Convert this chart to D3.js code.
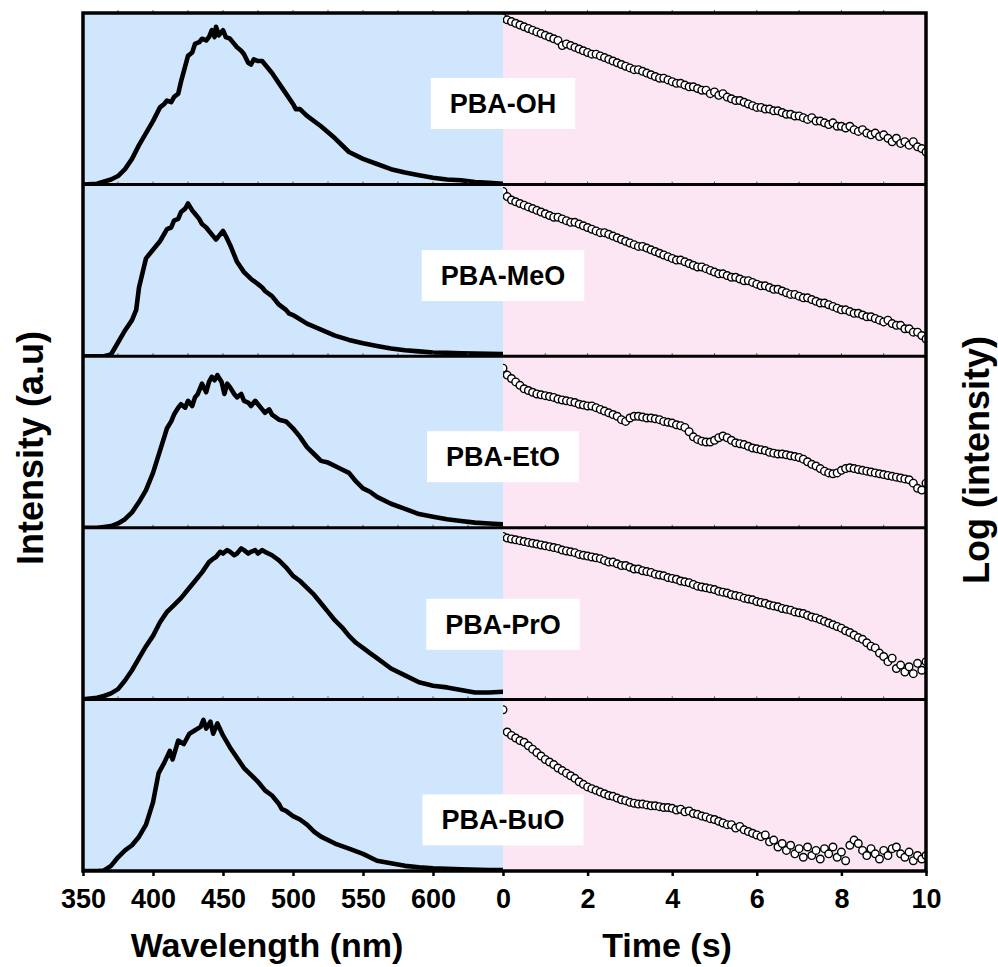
<!DOCTYPE html>
<html><head><meta charset="utf-8">
<script src="https://cdn.jsdelivr.net/npm/d3@7"></script>
<style>body{margin:0;background:#fff}svg{display:block}</style>
</head><body>
<svg id="c" width="998" height="967"></svg>
<script>
// ---------------- DATA ----------------
const samples = ["PBA-OH", "PBA-MeO", "PBA-EtO", "PBA-PrO", "PBA-BuO"];
const wavelengthTicks = [350, 400, 450, 500, 550, 600];
const timeTicks = [0, 2, 4, 6, 8, 10];

// PL spectra: [wavelength (nm), intensity (a.u., normalised per panel)]
const specOH = [[350,0],[360,0.005],[370,0.03],[375,0.05],[380,0.09],[385,0.15],[390,0.23],[395,0.30],[400,0.37],[405,0.45],[408,0.47],[410,0.49],[413,0.48],[415,0.51],[418,0.53],[420,0.60],[425,0.75],[428,0.77],[430,0.82],[433,0.83],[435,0.85],[438,0.84],[440,0.86],[442,0.90],[444,0.86],[445,0.92],[447,0.87],[450,0.90],[452,0.86],[455,0.85],[458,0.82],[460,0.80],[463,0.78],[465,0.76],[468,0.71],[470,0.70],[472,0.73],[475,0.72],[478,0.72],[480,0.70],[485,0.65],[490,0.59],[495,0.53],[500,0.47],[502,0.44],[505,0.44],[510,0.40],[520,0.34],[530,0.27],[540,0.19],[550,0.15],[560,0.12],[570,0.09],[580,0.07],[590,0.055],[600,0.04],[610,0.03],[620,0.025],[630,0.015],[640,0.01],[650,0.005]];
const specMeO = [[350,0],[360,0],[365,0],[370,0.01],[375,0.08],[380,0.15],[385,0.21],[388,0.27],[390,0.40],[395,0.57],[400,0.62],[405,0.67],[410,0.74],[413,0.75],[415,0.79],[418,0.80],[420,0.84],[423,0.86],[425,0.89],[428,0.85],[430,0.83],[433,0.80],[435,0.77],[438,0.75],[440,0.73],[443,0.70],[445,0.68],[447,0.70],[450,0.73],[452,0.70],[455,0.65],[460,0.55],[465,0.49],[470,0.45],[475,0.42],[478,0.40],[480,0.38],[485,0.35],[490,0.30],[495,0.27],[497,0.25],[500,0.24],[510,0.19],[520,0.155],[530,0.12],[540,0.095],[550,0.075],[560,0.06],[570,0.045],[580,0.035],[590,0.028],[600,0.022],[610,0.02],[620,0.017],[630,0.015],[640,0.014],[650,0.013]];
const specEtO = [[350,0],[360,0],[365,0.005],[370,0.01],[375,0.025],[380,0.05],[385,0.09],[390,0.15],[395,0.22],[400,0.32],[405,0.45],[410,0.58],[413,0.62],[415,0.66],[418,0.70],[420,0.72],[423,0.70],[425,0.74],[428,0.71],[430,0.76],[432,0.78],[435,0.84],[438,0.79],[440,0.85],[442,0.88],[444,0.86],[446,0.89],[449,0.85],[451,0.78],[453,0.84],[455,0.82],[458,0.78],[460,0.76],[463,0.78],[465,0.74],[468,0.73],[470,0.71],[473,0.74],[475,0.72],[478,0.69],[480,0.67],[483,0.69],[485,0.66],[490,0.63],[495,0.62],[500,0.58],[505,0.53],[510,0.47],[515,0.43],[520,0.39],[525,0.38],[530,0.36],[535,0.34],[540,0.32],[545,0.27],[550,0.23],[555,0.21],[560,0.18],[570,0.14],[580,0.11],[590,0.08],[600,0.065],[610,0.05],[620,0.04],[630,0.03],[640,0.025],[650,0.02]];
const specPrO = [[350,0],[355,0.005],[360,0.01],[365,0.02],[370,0.035],[375,0.06],[380,0.11],[385,0.17],[390,0.24],[395,0.31],[400,0.37],[405,0.45],[410,0.51],[415,0.55],[420,0.59],[425,0.64],[430,0.69],[435,0.74],[440,0.80],[443,0.82],[445,0.83],[448,0.86],[450,0.85],[453,0.87],[455,0.86],[458,0.84],[460,0.85],[463,0.88],[465,0.87],[468,0.85],[470,0.86],[473,0.87],[475,0.85],[478,0.87],[480,0.86],[485,0.84],[490,0.81],[495,0.77],[500,0.72],[505,0.69],[510,0.65],[515,0.61],[520,0.56],[525,0.51],[530,0.46],[535,0.42],[540,0.37],[545,0.33],[550,0.30],[555,0.27],[560,0.24],[570,0.18],[580,0.14],[590,0.10],[600,0.08],[610,0.07],[620,0.055],[630,0.04],[640,0.04],[650,0.045]];
const specBuO = [[350,0],[360,0],[365,0.003],[370,0.03],[375,0.08],[380,0.12],[385,0.15],[390,0.20],[395,0.27],[400,0.40],[404,0.57],[408,0.63],[412,0.70],[414,0.65],[418,0.76],[422,0.74],[426,0.80],[430,0.82],[434,0.84],[436,0.88],[438,0.83],[441,0.87],[443,0.80],[446,0.86],[450,0.79],[455,0.72],[460,0.66],[465,0.60],[470,0.56],[475,0.52],[480,0.47],[485,0.44],[490,0.39],[492,0.36],[495,0.35],[500,0.32],[505,0.30],[510,0.27],[515,0.23],[520,0.20],[530,0.16],[540,0.13],[550,0.10],[560,0.06],[570,0.045],[580,0.03],[590,0.022],[600,0.016],[620,0.01],[640,0.006],[650,0.005]];

// Decay curves: time (s) and log intensity (normalised per panel)
const times = [0,0.1,0.2,0.3,0.4,0.5,0.6,0.7,0.8,0.9,1,1.1,1.2,1.3,1.4,1.5,1.6,1.7,1.8,1.9,2,2.1,2.2,2.3,2.4,2.5,2.6,2.7,2.8,2.9,3,3.1,3.2,3.3,3.4,3.5,3.6,3.7,3.8,3.9,4,4.1,4.2,4.3,4.4,4.5,4.6,4.7,4.8,4.9,5,5.1,5.2,5.3,5.4,5.5,5.6,5.7,5.8,5.9,6,6.1,6.2,6.3,6.4,6.5,6.6,6.7,6.8,6.9,7,7.1,7.2,7.3,7.4,7.5,7.6,7.7,7.8,7.9,8,8.1,8.2,8.3,8.4,8.5,8.6,8.7,8.8,8.9,9,9.1,9.2,9.3,9.4,9.5,9.6,9.7,9.8,9.9,10];
const decayOH = [0.97,0.96,0.95,0.94,0.93,0.92,0.91,0.90,0.89,0.88,0.87,0.86,0.85,0.84,0.81,0.82,0.81,0.80,0.79,0.78,0.77,0.76,0.76,0.75,0.74,0.73,0.72,0.71,0.70,0.69,0.68,0.67,0.67,0.66,0.65,0.64,0.63,0.62,0.62,0.61,0.60,0.59,0.59,0.58,0.57,0.57,0.56,0.55,0.55,0.53,0.54,0.52,0.53,0.51,0.50,0.49,0.49,0.48,0.47,0.46,0.45,0.45,0.44,0.44,0.43,0.43,0.42,0.41,0.41,0.40,0.40,0.39,0.38,0.39,0.37,0.37,0.36,0.35,0.36,0.34,0.34,0.33,0.34,0.32,0.31,0.32,0.30,0.29,0.30,0.28,0.29,0.27,0.25,0.27,0.24,0.25,0.23,0.25,0.22,0.21,0.19];
const decayMeO = [0.96,0.93,0.91,0.90,0.89,0.88,0.87,0.86,0.85,0.84,0.83,0.82,0.81,0.81,0.80,0.79,0.78,0.78,0.77,0.76,0.75,0.74,0.73,0.72,0.72,0.71,0.70,0.69,0.68,0.67,0.66,0.65,0.64,0.64,0.63,0.62,0.61,0.60,0.59,0.58,0.57,0.56,0.56,0.55,0.54,0.53,0.52,0.52,0.51,0.50,0.49,0.48,0.48,0.47,0.46,0.46,0.45,0.44,0.44,0.43,0.42,0.41,0.41,0.40,0.39,0.39,0.38,0.37,0.36,0.36,0.35,0.34,0.34,0.33,0.32,0.31,0.31,0.30,0.29,0.28,0.27,0.27,0.26,0.25,0.25,0.24,0.23,0.23,0.22,0.21,0.20,0.21,0.19,0.18,0.18,0.16,0.16,0.14,0.14,0.12,0.10];
const decayEtO = [0.93,0.89,0.87,0.85,0.83,0.81,0.80,0.79,0.78,0.775,0.77,0.765,0.76,0.75,0.745,0.74,0.735,0.73,0.72,0.715,0.71,0.71,0.70,0.69,0.68,0.67,0.66,0.65,0.63,0.62,0.64,0.65,0.65,0.645,0.64,0.64,0.635,0.63,0.62,0.615,0.61,0.60,0.595,0.585,0.56,0.53,0.515,0.505,0.50,0.50,0.51,0.525,0.535,0.525,0.51,0.495,0.49,0.485,0.475,0.465,0.46,0.455,0.45,0.44,0.435,0.43,0.43,0.425,0.42,0.415,0.41,0.40,0.385,0.37,0.36,0.345,0.33,0.32,0.315,0.32,0.335,0.345,0.35,0.345,0.34,0.335,0.33,0.325,0.32,0.315,0.31,0.305,0.30,0.295,0.29,0.285,0.28,0.26,0.23,0.22,0.26];
const decayPrO = [0.95,0.94,0.935,0.93,0.925,0.92,0.915,0.91,0.905,0.90,0.895,0.89,0.885,0.88,0.87,0.865,0.86,0.855,0.845,0.84,0.835,0.83,0.825,0.82,0.81,0.80,0.80,0.79,0.78,0.78,0.77,0.76,0.76,0.75,0.745,0.74,0.73,0.725,0.72,0.71,0.705,0.70,0.69,0.685,0.68,0.67,0.66,0.655,0.65,0.645,0.64,0.63,0.625,0.62,0.61,0.605,0.60,0.59,0.585,0.58,0.57,0.565,0.56,0.55,0.545,0.54,0.53,0.525,0.52,0.51,0.505,0.50,0.49,0.48,0.475,0.465,0.455,0.445,0.435,0.425,0.415,0.40,0.39,0.375,0.36,0.35,0.33,0.31,0.30,0.27,0.25,0.22,0.24,0.18,0.20,0.16,0.19,0.15,0.21,0.17,0.22];
const decayBuO = [0.94,0.81,0.79,0.775,0.76,0.75,0.73,0.71,0.69,0.67,0.65,0.635,0.62,0.60,0.585,0.57,0.555,0.54,0.52,0.505,0.49,0.48,0.47,0.46,0.45,0.44,0.435,0.425,0.415,0.41,0.40,0.395,0.39,0.39,0.385,0.38,0.38,0.375,0.37,0.37,0.365,0.355,0.36,0.345,0.35,0.335,0.33,0.32,0.315,0.305,0.30,0.29,0.28,0.27,0.27,0.25,0.26,0.24,0.23,0.22,0.21,0.20,0.21,0.17,0.18,0.14,0.16,0.12,0.15,0.10,0.13,0.08,0.14,0.09,0.12,0.07,0.13,0.10,0.14,0.08,0.11,0.06,0.15,0.18,0.16,0.12,0.09,0.13,0.10,0.07,0.12,0.09,0.13,0.14,0.10,0.08,0.11,0.06,0.09,0.07,0.09];

const spectraList = [specOH, specMeO, specEtO, specPrO, specBuO];
const decayList = [decayOH, decayMeO, decayEtO, decayPrO, decayBuO];

// ---------------- LAYOUT ----------------
const X0 = 83, XM = 503, X1 = 926, TOP = 13, PH = 171.6;
const labelCenterOffsets = [90.5, 91, 100.5, 96.5, 120.5];
const BLUE = "#cfe6fd", PINK = "#fde6f3";
const FONT = "Arial, 'Liberation Sans', Helvetica, sans-serif";

const svg = d3.select("#c");
const xL = d3.scaleLinear().domain([350, 650]).range([X0, XM]);
const xR = d3.scaleLinear().domain([0, 10]).range([XM, X1]);

samples.forEach((name, i) => {
  const top = TOP + i * PH;
  const y = d3.scaleLinear().domain([0, 1]).range([top + PH, top]);
  const g = svg.append("g");
  g.append("rect").attr("x", X0).attr("y", top).attr("width", XM - X0).attr("height", PH).attr("fill", BLUE);
  g.append("rect").attr("x", XM).attr("y", top).attr("width", X1 - XM).attr("height", PH).attr("fill", PINK);

  const defs = svg.append("defs");
  defs.append("clipPath").attr("id", "cl" + i).append("rect")
    .attr("x", X0).attr("y", top).attr("width", XM - X0).attr("height", PH);
  defs.append("clipPath").attr("id", "cr" + i).append("rect")
    .attr("x", XM).attr("y", top - 2).attr("width", X1 - XM).attr("height", PH + 2);

  // minor ticks along panel top (outside)
  const tg = g.append("g").attr("stroke", "#555").attr("stroke-width", 1);
  d3.range(375, 650, 25).forEach(v => tg.append("line").attr("x1", xL(v)).attr("x2", xL(v)).attr("y1", top).attr("y2", top - 3));
  d3.range(1, 10, 1).forEach(v => tg.append("line").attr("x1", xR(v)).attr("x2", xR(v)).attr("y1", top).attr("y2", top - 3));

  // spectrum
  g.append("path").datum(spectraList[i])
    .attr("clip-path", `url(#cl${i})`)
    .attr("fill", "none").attr("stroke", "#000").attr("stroke-width", 4.6)
    .attr("stroke-linejoin", "round").attr("stroke-linecap", "round")
    .attr("d", d3.line().x(d => xL(d[0])).y(d => y(d[1])));

  // decay points
  g.append("g").attr("clip-path", `url(#cr${i})`)
    .selectAll("circle").data(decayList[i]).join("circle")
    .attr("cx", (d, k) => xR(times[k])).attr("cy", d => y(d))
    .attr("r", 3.8).attr("fill", "#fff").attr("stroke", "#000").attr("stroke-width", 1.4);

  // separator line at panel top
  if (i > 0) {
    svg.append("line").attr("x1", X0).attr("x2", X1).attr("y1", top).attr("y2", top)
      .attr("stroke", "#000").attr("stroke-width", 3);
  }
});

// labels on top
samples.forEach((name, i) => {
  const cy = TOP + i * PH + labelCenterOffsets[i];
  const lg = svg.append("g");
  const rect = lg.append("rect").attr("fill", "#fff");
  const t = lg.append("text").attr("x", XM).attr("y", cy).attr("dy", "0.35em")
    .attr("text-anchor", "middle").attr("font-family", FONT).attr("font-weight", "bold")
    .attr("font-size", 27).attr("fill", "#000").text(name);
  const w = t.node().getComputedTextLength();
  rect.attr("x", XM - w / 2 - 19).attr("y", cy - 25.5).attr("width", w + 38).attr("height", 51);
});

// outer frame
svg.append("rect").attr("x", X0).attr("y", TOP).attr("width", X1 - X0).attr("height", 5 * PH)
  .attr("fill", "none").attr("stroke", "#000").attr("stroke-width", 3.5);

// bottom axes
const bottom = TOP + 5 * PH;
const axL = svg.append("g").attr("transform", `translate(0,${bottom})`)
  .call(d3.axisBottom(xL).tickValues(wavelengthTicks).tickSize(5).tickPadding(13));
const axR = svg.append("g").attr("transform", `translate(0,${bottom})`)
  .call(d3.axisBottom(xR).tickValues(timeTicks).tickSize(5).tickPadding(13));
[axL, axR].forEach(a => {
  a.select(".domain").remove();
  a.selectAll("line").attr("stroke", "#000").attr("stroke-width", 2.5);
  a.selectAll("text").attr("font-family", FONT).attr("font-weight", "bold").attr("font-size", 27).attr("fill", "#000");
});

// titles
svg.append("text").attr("x", 267).attr("y", 957).attr("text-anchor", "middle")
  .attr("font-family", FONT).attr("font-weight", "bold").attr("font-size", 34).text("Wavelength (nm)");
svg.append("text").attr("x", 667).attr("y", 957).attr("text-anchor", "middle")
  .attr("font-family", FONT).attr("font-weight", "bold").attr("font-size", 34).text("Time (s)");
svg.append("text").attr("transform", "translate(43,448) rotate(-90)").attr("text-anchor", "middle")
  .attr("font-family", FONT).attr("font-weight", "bold").attr("font-size", 36).text("Intensity (a.u)");
svg.append("text").attr("transform", "translate(989,460) rotate(-90)").attr("text-anchor", "middle")
  .attr("font-family", FONT).attr("font-weight", "bold").attr("font-size", 36).text("Log (intensity)");
</script>
</body></html>
